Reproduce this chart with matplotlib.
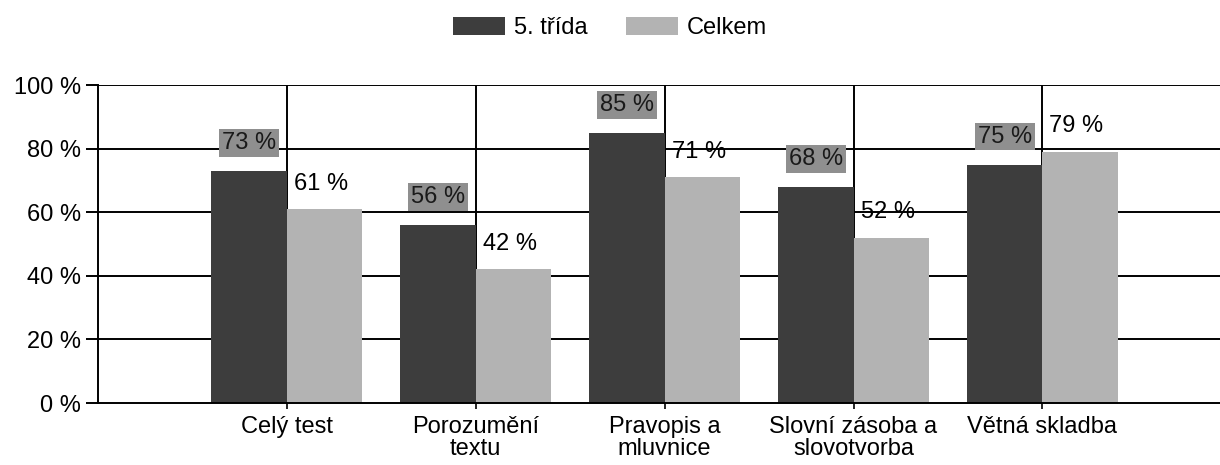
import matplotlib
matplotlib.use("Agg")
import matplotlib.pyplot as plt
import numpy as np

plt.rcParams["font.family"] = ["Liberation Sans", "DejaVu Sans"]

categories = ["Celý test", "Porozumění\ntextu", "Pravopis a\nmluvnice",
              "Slovní zásoba a\nslovotvorba", "Větná skladba"]
trida5 = [73, 56, 85, 68, 75]
celkem = [61, 42, 71, 52, 79]
yticks = [0, 20, 40, 60, 80, 100]

DARK = "#3d3d3d"
LIGHT = "#b3b3b3"
FS = 17

fig = plt.figure(figsize=(12.2, 4.65), dpi=100)
ax = fig.add_axes([98 / 1220, 62 / 465, 1 - 98 / 1220, 318 / 465])

x = np.arange(len(categories))
w = 0.4
b1 = ax.bar(x - w / 2, trida5, w, color=DARK, label="5. třída", zorder=2)
b2 = ax.bar(x + w / 2, celkem, w, color=LIGHT, label="Celkem", zorder=2)

for rect, v in zip(b1, trida5):
    ax.text(rect.get_x() + rect.get_width() / 2, v + 8.8, f"{v} %",
            ha="center", va="center", fontsize=FS, color="#1a1a1a", zorder=4,
            bbox=dict(boxstyle="square,pad=0.12", facecolor="#8f8f8f",
                      edgecolor="none"))
for rect, v in zip(b2, celkem):
    ax.text(rect.get_x() + rect.get_width() / 2 - 0.02, v + 8, f"{v} %",
            ha="center", va="center", fontsize=FS, color="black", zorder=4)

ax.set_xlim(-1, len(categories) - 1 + 0.94)
ax.set_ylim(0, 100)
ax.set_yticks(yticks)
ax.set_yticklabels([f"{t} %" for t in yticks], fontsize=FS)
ax.set_xticks(x)
ax.set_xticklabels(categories, fontsize=FS, linespacing=1.0)

# horizontal and vertical grid lines
for t in yticks[1:]:
    ax.axhline(t, color="black", lw=1.4, zorder=1)
for xi in x:
    ax.plot([xi, xi], [0, 100], color="black", lw=1.4, zorder=1)

for s in ["top", "right"]:
    ax.spines[s].set_visible(False)
for s in ["left", "bottom"]:
    ax.spines[s].set_linewidth(1.4)
    ax.spines[s].set_zorder(3)
ax.tick_params(axis="y", length=9, width=1.4, pad=3)
ax.tick_params(axis="x", length=4, width=1.2, pad=5)

fig.legend(loc="upper center", bbox_to_anchor=(0.5, 1.01), ncol=2,
           frameon=False, fontsize=FS, handlelength=2.2, handleheight=0.8,
           columnspacing=1.6, handletextpad=0.4)

fig.savefig("out.png", dpi=100)
